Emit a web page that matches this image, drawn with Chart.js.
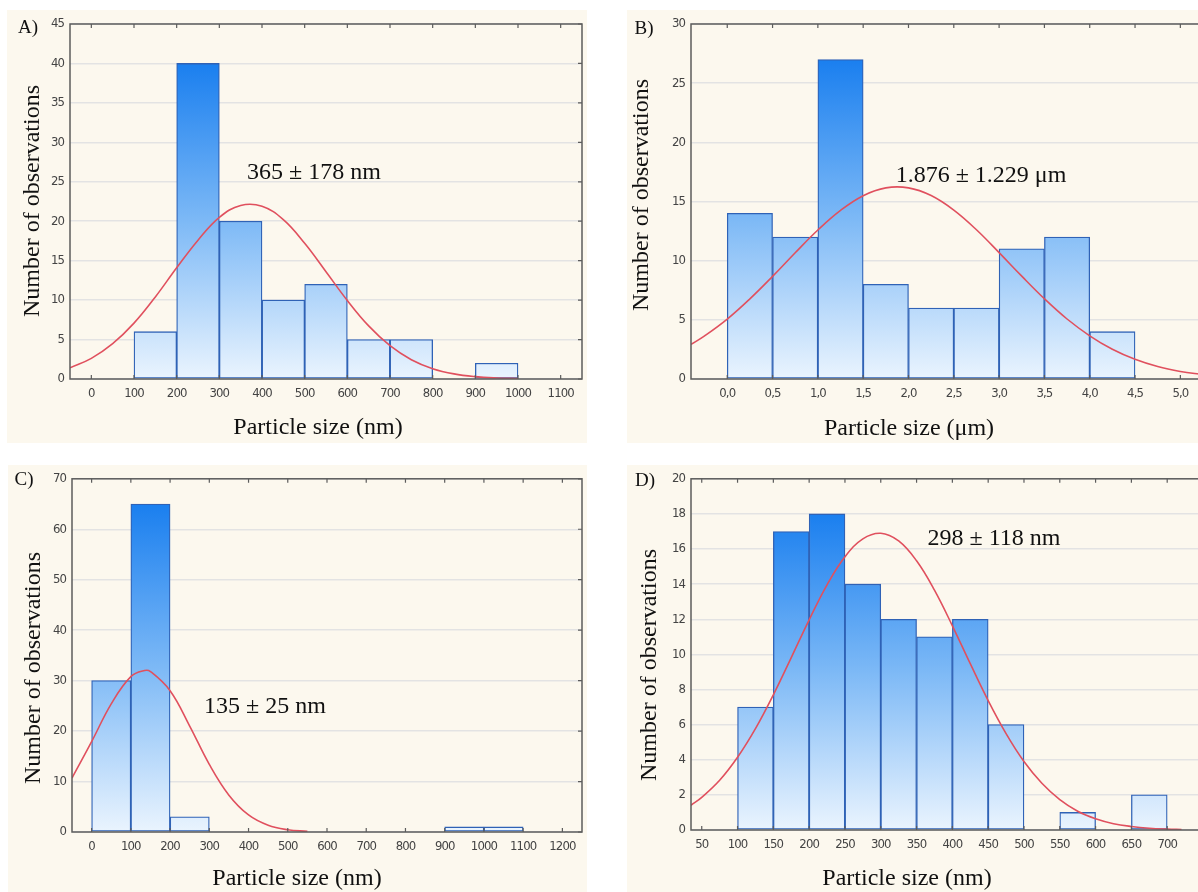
<!DOCTYPE html>
<html>
<head>
<meta charset="utf-8">
<script src="https://cdn.jsdelivr.net/npm/chart.js@4.4.1/dist/chart.umd.min.js"></script>
<style>
  html, body { margin:0; padding:0; background:#ffffff; width:1198px; height:892px; overflow:hidden; }
  .panel { position:absolute; background:#fcf8ee; }
  .panel canvas { position:absolute; left:0; top:0; }
  .txt { position:absolute; white-space:nowrap; line-height:1; color:#111;
         font-family:'Liberation Serif','Times New Roman',serif; transform:translate(-50%,-50%); }
  .big { font-size:24px; }
  .letter { font-size:19px; }
  .rot { transform:translate(-50%,-50%) rotate(-90deg); }
</style>
</head>
<body>
<div class="panel" id="pA" style="left:7px;top:10px;width:580px;height:433px;"><canvas id="cA" width="580" height="433"></canvas></div>
<div class="panel" id="pB" style="left:627px;top:10px;width:576px;height:433px;"><canvas id="cB" width="576" height="433"></canvas></div>
<div class="panel" id="pC" style="left:8px;top:465px;width:579px;height:427px;"><canvas id="cC" width="579" height="427"></canvas></div>
<div class="panel" id="pD" style="left:627px;top:465px;width:576px;height:427px;"><canvas id="cD" width="576" height="427"></canvas></div>

<div class="txt letter" style="left:28px;top:26px;">A)</div>
<div class="txt letter" style="left:644px;top:27px;">B)</div>
<div class="txt letter" style="left:24px;top:478px;">C)</div>
<div class="txt letter" style="left:645px;top:479px;">D)</div>

<div class="txt big rot" style="left:31px;top:201px;">Number of observations</div>
<div class="txt big rot" style="left:640px;top:195px;">Number of observations</div>
<div class="txt big rot" style="left:32px;top:668px;">Number of observations</div>
<div class="txt big rot" style="left:648px;top:665px;">Number of observations</div>

<div class="txt big" style="left:318px;top:426px;">Particle size (nm)</div>
<div class="txt big" style="left:909px;top:427px;">Particle size (μm)</div>
<div class="txt big" style="left:297px;top:877px;">Particle size (nm)</div>
<div class="txt big" style="left:907px;top:877px;">Particle size (nm)</div>

<div class="txt big" style="left:314px;top:171px;">365 ± 178 nm</div>
<div class="txt big" style="left:981px;top:174px;">1.876 ± 1.229 μm</div>
<div class="txt big" style="left:265px;top:705px;">135 ± 25 nm</div>
<div class="txt big" style="left:994px;top:537px;">298 ± 118 nm</div>

<script>
// ---------- Panel A (nm) ----------
const binStartA = [100, 200, 300, 400, 500, 600, 700, 900];
const countsA   = [6, 40, 20, 10, 12, 5, 5, 2];
const binWidthA = 100;
const curveXA = [-50, 0, 50, 100, 150, 200, 250, 300, 350, 400, 450, 500, 550, 600, 650, 700, 750, 800, 850, 900, 950, 1000];
const curveYA = [1.42, 2.62, 4.48, 7.08, 10.4, 14.1, 17.6, 20.5, 22.0, 21.9, 20.2, 17.2, 13.6, 9.95, 6.73, 4.22, 2.45, 1.31, 0.65, 0.30, 0.13, 0.05];
const xTicksA = [0, 100, 200, 300, 400, 500, 600, 700, 800, 900, 1000, 1100];
const xTickLabelsA = ['0','100','200','300','400','500','600','700','800','900','1000','1100'];
const yTicksA = [0, 5, 10, 15, 20, 25, 30, 35, 40, 45];

// ---------- Panel B (µm) ----------
const binStartB = [0.0, 0.5, 1.0, 1.5, 2.0, 2.5, 3.0, 3.5, 4.0];
const countsB   = [14, 12, 27, 8, 6, 6, 11, 12, 4];
const binWidthB = 0.5;
const curveXB = [-0.4, -0.25, 0, 0.25, 0.5, 0.75, 1.0, 1.25, 1.5, 1.75, 2.0, 2.25, 2.5, 2.75, 3.0, 3.25, 3.5, 3.75, 4.0, 4.25, 4.5, 4.75, 5.0, 5.25];
const curveYB = [2.92, 3.64, 5.06, 6.77, 8.67, 10.67, 12.59, 14.25, 15.49, 16.15, 16.15, 15.50, 14.27, 12.61, 10.68, 8.69, 6.78, 5.07, 3.65, 2.51, 1.66, 1.05, 0.64, 0.37];
const xTicksB = [0, 0.5, 1.0, 1.5, 2.0, 2.5, 3.0, 3.5, 4.0, 4.5, 5.0];
const xTickLabelsB = ['0,0','0,5','1,0','1,5','2,0','2,5','3,0','3,5','4,0','4,5','5,0'];
const yTicksB = [0, 5, 10, 15, 20, 25, 30];

// ---------- Panel C (nm) ----------
const binStartC = [0, 100, 200, 900, 1000];
const countsC   = [30, 65, 3, 1, 1];
const binWidthC = 100;
const curveXC = [-50, 0, 50, 100, 135, 150, 200, 250, 300, 350, 400, 450, 500, 550];
const curveYC = [10.7, 17.9, 25.4, 30.8, 32.0, 31.8, 28.0, 21.0, 13.4, 7.3, 3.38, 1.34, 0.45, 0.13];
const xTicksC = [0, 100, 200, 300, 400, 500, 600, 700, 800, 900, 1000, 1100, 1200];
const xTickLabelsC = ['0','100','200','300','400','500','600','700','800','900','1000','1100','1200'];
const yTicksC = [0, 10, 20, 30, 40, 50, 60, 70];

// ---------- Panel D (nm) ----------
const binStartD = [100, 150, 200, 250, 300, 350, 400, 450, 550, 650];
const countsD   = [7, 17, 18, 14, 12, 11, 12, 6, 1, 2];
const binWidthD = 50;
const curveXD = [35, 50, 75, 100, 125, 150, 175, 200, 225, 250, 275, 300, 325, 350, 375, 400, 425, 450, 475, 500, 525, 550, 575, 600, 625, 650, 675, 700, 720];
const curveYD = [1.41, 1.86, 2.83, 4.14, 5.77, 7.70, 9.82, 11.97, 13.96, 15.56, 16.58, 16.90, 16.46, 15.33, 13.66, 11.63, 9.47, 7.37, 5.49, 3.90, 2.66, 1.73, 1.07, 0.64, 0.36, 0.20, 0.10, 0.05, 0.03];
const xTicksD = [50, 100, 150, 200, 250, 300, 350, 400, 450, 500, 550, 600, 650, 700];
const xTickLabelsD = ['50','100','150','200','250','300','350','400','450','500','550','600','650','700'];
const yTicksD = [0, 2, 4, 6, 8, 10, 12, 14, 16, 18, 20];

const TICK_FONT = { family: "'Liberation Sans Narrow','Arial Narrow','DejaVu Sans Condensed',sans-serif", size: 13 };

const narrowText = {
  id: 'narrowText',
  beforeDraw(chart) {
    try { chart.ctx.letterSpacing = '-0.9px'; } catch (e) {}
  }
};

const framePlugin = {
  id: 'frame',
  afterDraw(chart) {
    const { ctx, chartArea: a, scales } = chart;
    ctx.save();
    ctx.strokeStyle = '#5c5c5c';
    ctx.lineWidth = 1.5;
    ctx.strokeRect(a.left, a.top, a.right - a.left, a.bottom - a.top);
    ctx.lineWidth = 1.2;
    ctx.beginPath();
    scales.x.ticks.forEach(t => {
      const px = scales.x.getPixelForValue(t.value);
      ctx.moveTo(px, a.top); ctx.lineTo(px, a.top + 4);
      ctx.moveTo(px, a.bottom); ctx.lineTo(px, a.bottom - 4);
    });
    scales.y.ticks.forEach(t => {
      const py = scales.y.getPixelForValue(t.value);
      ctx.moveTo(a.right, py); ctx.lineTo(a.right - 4, py);
    });
    ctx.stroke();
    ctx.restore();
  }
};

function makeChart(id, o) {
  const maxCount = Math.max(...o.counts);
  new Chart(document.getElementById(id), {
    type: 'bar',
    data: {
      datasets: [
        {
          type: 'line',
          data: o.curveX.map((x, i) => ({ x: x, y: o.curveY[i] })),
          borderColor: '#e0505e',
          borderWidth: 1.6,
          pointRadius: 0,
          tension: 0.4,
          fill: false,
          order: 0
        },
        {
          type: 'bar',
          data: o.binStart.map((s, i) => ({ x: s + o.binWidth / 2, y: o.counts[i] })),
          backgroundColor: (c) => {
            const chart = c.chart;
            if (!chart.chartArea) return '#8bbef5';
            const ys = chart.scales.y;
            const g = chart.ctx.createLinearGradient(0, ys.getPixelForValue(0), 0, ys.getPixelForValue(maxCount));
            g.addColorStop(0, '#eaf4fe');
            g.addColorStop(0.5, '#7db9f6');
            g.addColorStop(1, '#1a7fef');
            return g;
          },
          borderColor: '#2f62b6',
          borderWidth: 1.3,
          borderSkipped: false,
          barPercentage: 1,
          categoryPercentage: 1,
          order: 1
        }
      ]
    },
    options: {
      responsive: false,
      animation: false,
      events: [],
      layout: { autoPadding: false, padding: { top: o.padTop, right: o.padRight, left: 0, bottom: 0 } },
      plugins: { legend: { display: false }, tooltip: { enabled: false } },
      scales: {
        x: {
          type: 'linear', offset: false, min: o.xMin, max: o.xMax,
          grid: { display: false, drawTicks: false },
          border: { display: false },
          afterBuildTicks: s => { s.ticks = o.xTicks.map(v => ({ value: v })); },
          afterFit: s => { s.height = o.xAxisH; },
          ticks: { padding: 7, color: '#444444', font: TICK_FONT, maxRotation: 0, autoSkip: false,
                   callback: (v, i) => o.xTickLabels[i] }
        },
        y: {
          type: 'linear', min: 0, max: o.yMax,
          grid: { color: '#e3e3e3', lineWidth: 1.5, drawTicks: false },
          border: { display: false },
          afterBuildTicks: s => { s.ticks = o.yTicks.map(v => ({ value: v })); },
          afterFit: s => { s.width = o.yAxisW; },
          ticks: { padding: 6, color: '#444444', font: TICK_FONT, autoSkip: false }
        }
      }
    },
    plugins: [narrowText, framePlugin]
  });
}

makeChart('cA', { binStart: binStartA, counts: countsA, binWidth: binWidthA, curveX: curveXA, curveY: curveYA,
  xTicks: xTicksA, xTickLabels: xTickLabelsA, yTicks: yTicksA, xMin: -50, xMax: 1150, yMax: 45,
  padTop: 14, padRight: 5, yAxisW: 63, xAxisH: 64 });
makeChart('cB', { binStart: binStartB, counts: countsB, binWidth: binWidthB, curveX: curveXB, curveY: curveYB,
  xTicks: xTicksB, xTickLabels: xTickLabelsB, yTicks: yTicksB, xMin: -0.4, xMax: 5.25, yMax: 30,
  padTop: 14, padRight: 0, yAxisW: 64, xAxisH: 64 });
makeChart('cC', { binStart: binStartC, counts: countsC, binWidth: binWidthC, curveX: curveXC, curveY: curveYC,
  xTicks: xTicksC, xTickLabels: xTickLabelsC, yTicks: yTicksC, xMin: -50, xMax: 1250, yMax: 70,
  padTop: 12, padRight: 5, yAxisW: 64, xAxisH: 60 });
makeChart('cD', { binStart: binStartD, counts: countsD, binWidth: binWidthD, curveX: curveXD, curveY: curveYD,
  xTicks: xTicksD, xTickLabels: xTickLabelsD, yTicks: yTicksD, xMin: 35, xMax: 750, yMax: 20,
  padTop: 11, padRight: 0, yAxisW: 64, xAxisH: 62 });
</script>
</body>
</html>
